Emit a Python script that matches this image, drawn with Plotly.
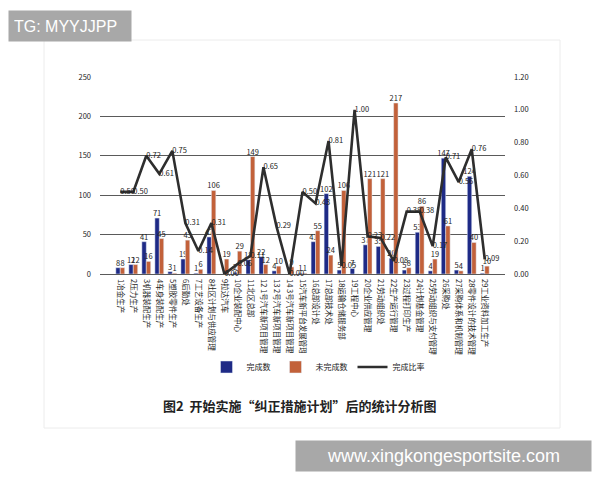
import plotly.graph_objects as go

categories = [
    "1冶金生产", "2压力生产", "3机器装配生产", "4车身装配生产", "5塑胶零件生产",
    "6后勤处", "7工艺设备生产", "8社区计划与供应管理", "9拉达汽车", "10企业装配中心",
    "11北区总部", "12 1号汽车新项目管理", "13 2号汽车新项目管理", "14 3号汽车新项目管理",
    "15汽车新平台发展管理", "16总部设计处", "17总部技术处", "18运输仓储服务部",
    "19工程中心", "20企业供应管理", "21劳动组织处", "22生产运行管理", "23过程打印生产",
    "24计划基金管理", "25劳动组织与支付管理", "26采购处", "27采购体系和机制管理",
    "28零件设计的技术管理", "29工业资料加工生产",
]
completed = [8, 12, 41, 71, 3, 19, 1, 47, 0, 2, 18, 22, 4, 0, 1, 41, 102, 5, 7, 37,
             35, 20, 5, 53, 4, 147, 5, 124, 1]
uncompleted = [8, 12, 16, 45, 1, 43, 6, 106, 19, 29, 149, 12, 10, 9, 1, 55, 24, 106, 0,
               121, 121, 217, 8, 86, 19, 61, 4, 40, 10]
ratio = [0.50, 0.50, 0.72, 0.61, 0.75, 0.31, 0.14, 0.31, 0.00, 0.06, 0.11, 0.65, 0.29,
         0.00, 0.50, 0.43, 0.81, 0.05, 1.00, 0.23, 0.22, 0.08, 0.38, 0.38, 0.17, 0.71,
         0.56, 0.76, 0.09]
left_ticks = [0, 50, 100, 150, 200, 250]
right_ticks = [0.0, 0.2, 0.4, 0.6, 0.8, 1.0, 1.2]

FONT = "Noto Sans CJK SC"
BLUE = "#1e2a86"
ORANGE = "#c2613a"

# plot area in pixels
L, R, T, B = 100, 505, 77, 274


def px(x):
    return (x - L) / (R - L)


def py(y):
    return (B - y) / (B - T)


fig = go.Figure()
fig.add_trace(go.Bar(
    x=categories, y=completed, name="完成数", marker_color=BLUE,
    text=[str(v) if v else "" for v in completed], textposition="outside",
    textfont=dict(size=7.5, color="#222"), constraintext="none", cliponaxis=False,
))
fig.add_trace(go.Bar(
    x=categories, y=uncompleted, name="未完成数", marker_color=ORANGE,
    text=[str(v) if v else "" for v in uncompleted], textposition="outside",
    textfont=dict(size=7.5, color="#222"), constraintext="none", cliponaxis=False,
))
fig.add_trace(go.Scatter(
    x=categories, y=ratio, name="完成比率", yaxis="y2", mode="lines+text",
    line=dict(color="#2e2e2e", width=2.6),
    text=[f"{v:.2f}" for v in ratio], textposition="middle right",
    textfont=dict(size=7.5, color="#222"), cliponaxis=False,
))

fig.update_layout(
    width=600, height=480,
    margin=dict(l=L, r=600 - R, t=T, b=480 - B, pad=0, autoexpand=False),
    paper_bgcolor="white", plot_bgcolor="white",
    font=dict(family=FONT, size=8, color="#222"),
    barmode="group", bargap=0.32, bargroupgap=0.0,
    showlegend=True,
    legend=dict(orientation="h", x=px(318), xanchor="center", y=py(367), yanchor="middle",
                font=dict(size=8), itemwidth=30, tracegroupgap=0),
    xaxis=dict(type="category", tickangle=90, tickfont=dict(size=7.5, family=FONT),
               showgrid=False, showline=False, ticks="", automargin=False,
               ticklabelstandoff=4),
    yaxis=dict(range=[0, 250], tickvals=left_ticks, tickfont=dict(size=7.5),
               showgrid=True, gridcolor="#5a5a5a", gridwidth=1.3, zeroline=True,
               zerolinecolor="#5a5a5a", zerolinewidth=1.3, ticks="", ticklabelstandoff=8,
               automargin=False),
    yaxis2=dict(range=[0, 1.2], tickvals=right_ticks, tickformat=".2f", overlaying="y",
                side="right", showgrid=False, zeroline=False, tickfont=dict(size=7.5),
                ticklabelstandoff=8, automargin=False),
    shapes=[dict(type="rect", xref="paper", yref="paper", x0=px(44), x1=px(560),
                 y0=py(428), y1=py(40), line=dict(color="#ececec", width=1),
                 fillcolor="rgba(0,0,0,0)", layer="below")],
    annotations=[
        dict(text="<b>图2  开始实施“纠正措施计划”后的统计分析图</b>", xref="paper", yref="paper",
             x=px(300), y=py(405), xanchor="center", yanchor="middle", showarrow=False,
             font=dict(size=13, family=FONT, color="#222")),
        dict(text="TG: MYYJJPP", xref="paper", yref="paper", x=px(8), y=py(10),
             xanchor="left", yanchor="top", showarrow=False, bgcolor="#a8a8a8",
             font=dict(size=16, family="Liberation Sans", color="white"), borderpad=5,
             width=112, height=20, align="left"),
        dict(text="www.xingkongesportsite.com", xref="paper", yref="paper", x=px(295),
             y=py(440), xanchor="left", yanchor="top", showarrow=False, bgcolor="#a8a8a8",
             font=dict(size=18, family="Liberation Sans", color="white"), borderpad=5,
             width=285, height=20, align="center"),
    ],
)

fig.write_html(
    "out.html",
    config={"displayModeBar": False},
    post_script="document.body.style.margin='0';document.body.style.overflow='hidden';",
)
